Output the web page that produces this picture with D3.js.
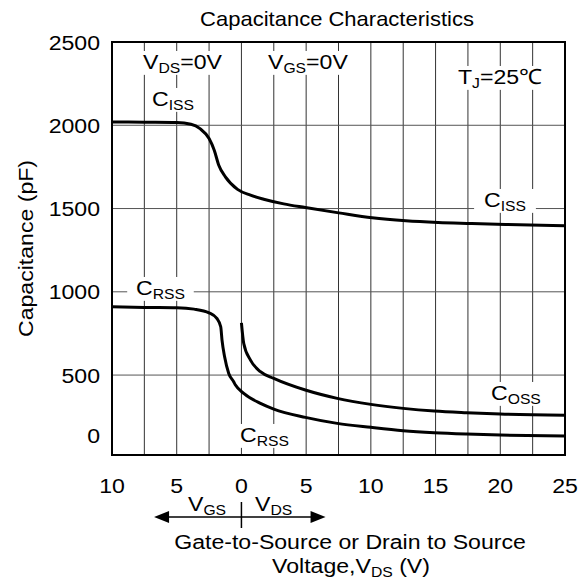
<!DOCTYPE html>
<html>
<head>
<meta charset="utf-8">
<script src="https://cdn.jsdelivr.net/npm/d3@7"></script>
<style>
  html, body { margin: 0; padding: 0; background: #fff; }
  svg { display: block; }
  text { font-family: "Liberation Sans", Arial, sans-serif; fill: #000; }
</style>
</head>
<body>
<svg id="chart" width="587" height="582"></svg>
<script>
// Signed voltage axis: negative = V_GS side (drawn with positive labels), positive = V_DS side
const xTicks = [-10, -5, 0, 5, 10, 15, 20, 25];
const xTickLabels = ["10", "5", "0", "5", "10", "15", "20", "25"];
const yTicks = [0, 500, 1000, 1500, 2000, 2500];
const yTickLabels = ["0", "500", "1000", "1500", "2000", "2500"];

// C_ISS (pF)
const cissV = [-10, -7.5, -5, -3.9, -3.2, -2.5, -2.1, -1.75, -1.24, -0.3, 0.7, 1.72, 3.27, 4.94, 7.52, 10.1, 12.7, 15.2, 17.8, 20.4, 25];
const cissC = [2020, 2018, 2016, 2006, 1980, 1920, 1850, 1760, 1690, 1615, 1580, 1556, 1528, 1506, 1474, 1444, 1426, 1416, 1410, 1404, 1396];

// C_RSS (pF)
const crssV = [-10, -7.5, -5, -3.66, -2.5, -1.9, -1.6, -1.5, -1.3, -0.98, -0.6, -0.46, 0.18, 1.47, 2.5, 4.94, 7.4, 10, 12.5, 14.9, 17.4, 20, 25];
const crssC = [910, 906, 904, 896, 874, 840, 790, 710, 610, 510, 460, 440, 390, 330, 296, 246, 210, 186, 166, 154, 146, 140, 134];

// C_OSS (pF), V_DS side only
const cossV = [0, 0.18, 0.7, 1.47, 2.5, 4.94, 7.4, 10, 12.5, 14.9, 17.4, 20, 25];
const cossC = [814, 690, 590, 520, 480, 410, 360, 324, 300, 284, 274, 266, 258];

const W = 587, H = 582;
const margin = { top: 42, right: 22, bottom: 127, left: 112 };
const innerW = W - margin.left - margin.right;
const innerH = H - margin.top - margin.bottom;
const SX = 1.1; // horizontal text stretch

const svg = d3.select("#chart");
const g = svg.append("g").attr("transform", `translate(${margin.left},${margin.top})`);

const x = d3.scaleLinear().domain([-10, 25]).range([0, innerW]);
const y = d3.scaleLinear().domain([20, 2500]).range([innerH, 0]);

// text helper: horizontally stretched text, optional white box behind it
function label(parent, px, py, parts, opts = {}) {
  const size = opts.size || 21;
  const grp = parent.append("g").attr("transform", `translate(${px},${py}) scale(${SX},1)`);
  const t = grp.append("text")
    .attr("font-size", size)
    .attr("text-anchor", opts.anchor || "start");
  parts.forEach(p => {
    const ts = t.append("tspan").text(p.t);
    if (p.sub) ts.attr("font-size", size * 0.68).attr("dy", 4);
    else if (p.after) ts.attr("dy", -4);
  });
  if (opts.box) {
    const b = t.node().getBBox();
    const pad = opts.pad || 3;
    grp.insert("rect", "text")
      .attr("x", b.x - pad).attr("y", b.y + 1)
      .attr("width", b.width + pad * 2).attr("height", b.height - 2)
      .attr("fill", "#fff");
  }
  return grp;
}

// grid
const xGrid = d3.range(-7.5, 25, 2.5);
g.append("g").selectAll("line").data(xGrid).join("line")
  .attr("x1", d => x(d)).attr("x2", d => x(d))
  .attr("y1", 0).attr("y2", innerH)
  .attr("stroke", "#333").attr("stroke-width", 1);
g.append("g").selectAll("line").data(yTicks.filter(v => v > 0 && v < 2500)).join("line")
  .attr("x1", 0).attr("x2", innerW)
  .attr("y1", d => y(d)).attr("y2", d => y(d))
  .attr("stroke", "#555").attr("stroke-width", 1);

// annotation layer (white boxes cut the grid)
const ann = g.append("g");
label(ann, 31, 27, [{ t: "V" }, { t: "DS", sub: true }, { t: "=0V", after: true }], { box: true });
label(ann, 156, 27, [{ t: "V" }, { t: "GS", sub: true }, { t: "=0V", after: true }], { box: true });
label(ann, 346, 42, [{ t: "T" }, { t: "J", sub: true }, { t: "=25℃", after: true }], { box: true });
label(ann, 40, 64, [{ t: "C" }, { t: "ISS", sub: true }], { box: true });
label(ann, 24, 253, [{ t: "C" }, { t: "RSS", sub: true }], { box: true, pad: 8 });
label(ann, 372, 165, [{ t: "C" }, { t: "ISS", sub: true }], { box: true, pad: 9 });
label(ann, 379, 358, [{ t: "C" }, { t: "OSS", sub: true }], { box: true, pad: 4 });
label(ann, 128, 400, [{ t: "C" }, { t: "RSS", sub: true }], { box: true, pad: 3 });

// curves
const line = d3.line().x(d => x(d[0])).y(d => y(d[1])).curve(d3.curveMonotoneX);
const series = [
  d3.zip(cissV, cissC),
  d3.zip(crssV, crssC),
  d3.zip(cossV, cossC)
];
g.append("g").selectAll("path").data(series).join("path")
  .attr("d", line)
  .attr("fill", "none").attr("stroke", "#000").attr("stroke-width", 3)
  .attr("stroke-linejoin", "round").attr("stroke-linecap", "butt");

// frame
g.append("rect").attr("x", 0).attr("y", 0).attr("width", innerW).attr("height", innerH)
  .attr("fill", "none").attr("stroke", "#000").attr("stroke-width", 2);

// x tick labels
xTicks.forEach((v, i) => {
  label(svg, margin.left + x(v), 493, [{ t: xTickLabels[i] }], { anchor: "middle" });
});

// y tick labels (lowest label sits just above the frame bottom)
yTicks.forEach((v, i) => {
  const py = i === 0 ? margin.top + innerH - 12 : margin.top + y(v) + 7.5;
  label(svg, 100, py, [{ t: yTickLabels[i] }], { anchor: "end" });
});

// title
label(svg, 337, 26, [{ t: "Capacitance Characteristics" }], { anchor: "middle", size: 20 });

// y axis title
const yt = svg.append("g").attr("transform", `translate(33,${margin.top + innerH / 2}) rotate(-90) scale(${SX},1)`);
yt.append("text").attr("font-size", 21).attr("text-anchor", "middle").text("Capacitance (pF)");

// x axis titles
label(svg, 350, 549, [{ t: "Gate-to-Source or Drain to Source" }], { anchor: "middle", size: 21 });
label(svg, 351, 573, [{ t: "Voltage,V" }, { t: "DS", sub: true }, { t: " (V)", after: true }], { anchor: "middle", size: 21 });

// polarity arrow below the axis
const ax0 = margin.left + x(-6.75), ax1 = margin.left + x(6.5), ax = margin.left + x(0);
const ay = 517;
const arr = svg.append("g");
arr.append("line").attr("x1", ax0 + 10).attr("x2", ax1 - 10).attr("y1", ay).attr("y2", ay)
  .attr("stroke", "#000").attr("stroke-width", 1.5);
arr.append("line").attr("x1", ax).attr("x2", ax).attr("y1", 502).attr("y2", 528)
  .attr("stroke", "#000").attr("stroke-width", 1.5);
arr.append("path").attr("d", `M${ax0},${ay} L${ax0 + 15},${ay - 6} L${ax0 + 15},${ay + 6} Z`).attr("fill", "#000");
arr.append("path").attr("d", `M${ax1},${ay} L${ax1 - 15},${ay - 6} L${ax1 - 15},${ay + 6} Z`).attr("fill", "#000");
label(svg, 188, 511, [{ t: "V" }, { t: "GS", sub: true }], {});
label(svg, 255, 511, [{ t: "V" }, { t: "DS", sub: true }], {});
</script>
</body>
</html>
